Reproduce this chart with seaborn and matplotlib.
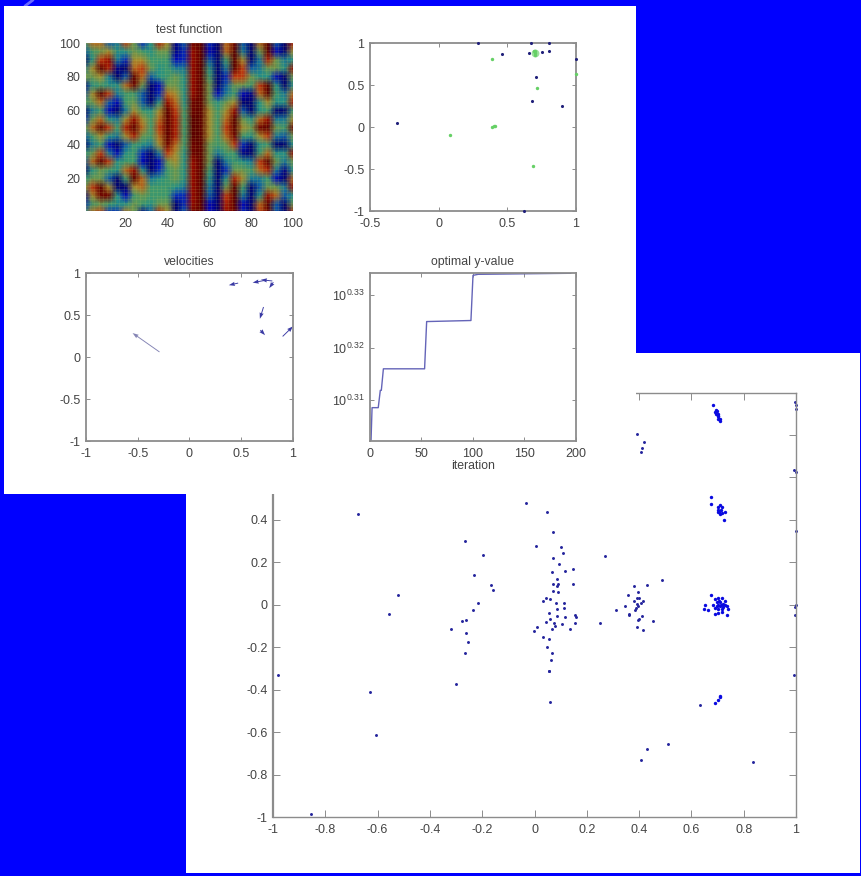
#!/usr/bin/env python3
"""Slide with a MATLAB figure of a swarm run pasted over a larger scatter of particle positions"""

import numpy as np
import pandas as pd
import matplotlib
matplotlib.use('Agg')
import matplotlib.pyplot as plt
from matplotlib.colors import LinearSegmentedColormap
from matplotlib.lines import Line2D
from matplotlib.patches import Rectangle
import seaborn as sns

# test function, read by eye on a coarse grid (rows y=100..0 step 5, columns x=0..100 step 4)
HEAT_X = list(range(0, 101, 4))
HEAT_Y = list(range(100, -1, -5))
HEAT_VALUES = [
    [-1, 3, 3, -3, -2, 4, 1, -4, -1, 5, 2, -6, -3, 7, 8, -4, -7, 3, 7, -3, -7, 3, 8, -3, -8, 5],
    [-3, 0, 1, 2, -1, -1, 1, 0, -1, 1, 1, -6, -4, 6, 9, -5, -8, 3, 8, -2, -8, 1, 9, -5, -7, 2],
    [-8, -1, 4, 6, -2, -4, 2, 2, 0, 0, 0, -5, -4, 6, 9, -3, -9, 0, 9, 2, -8, -2, 5, 1, -2, -1],
    [-2, 2, 9, 5, -6, -8, 3, 4, 1, -1, 0, -2, -2, 6, 9, -1, -9, -2, 8, 4, -3, -2, 1, 1, -1, 6],
    [1, 1, 2, -2, -8, -3, 9, 3, -3, -1, 0, 1, -1, 6, 9, 0, -9, -4, 4, 4, 1, -1, -1, -5, -7, 1],
    [-6, -1, 0, -1, -1, 3, 7, 1, -7, -5, 1, 1, -1, 6, 9, 1, -8, -3, 1, 1, 0, 4, 8, -1, -8, -1],
    [-3, 2, 8, 4, -2, 0, 0, -3, -9, -4, 3, 2, -1, 6, 9, 1, -5, -2, 0, -5, -6, 3, 8, 0, -2, 3],
    [0, 1, 3, -3, -5, 0, 1, -3, -7, -1, 6, 3, -1, 7, 9, 1, -1, 1, 2, -8, -9, -1, 2, -1, -1, 5],
    [-7, -2, 0, -5, -9, -2, 2, 0, -1, 2, 8, 4, 0, 7, 9, 2, 0, 2, 6, -3, -7, -1, 0, -7, -8, 0],
    [-4, 1, 3, -1, -2, 2, 6, 2, 0, 3, 9, 5, 0, 8, 10, 2, 0, 3, 8, 1, -1, 3, 6, -2, -2, 2],
    [0, 3, 9, 4, 0, 5, 9, 3, 0, 4, 9, 5, 0, 8, 10, 2, 0, 4, 9, 2, 1, 7, 9, 1, 0, 7],
    [-3, 0, 2, -1, -2, 2, 5, 1, 0, 3, 9, 5, 0, 8, 10, 2, 0, 3, 7, 0, -1, 2, 4, -2, -3, 1],
    [-7, -2, 0, -5, -9, -3, 0, -1, -2, 2, 7, 3, 0, 7, 9, 1, 0, 1, 4, -4, -8, -1, 0, -7, -8, -1],
    [-1, 1, 4, -2, -5, -1, 0, -4, -7, -2, 4, 2, -1, 7, 9, 1, -2, 0, 0, -6, -9, 0, 3, -1, -1, 6],
    [-3, 3, 9, 4, -1, 0, 0, -5, -9, -5, 1, 2, -1, 6, 9, 1, -7, -2, 0, -1, -2, 4, 9, 1, -2, 1],
    [-7, -1, 1, 0, -1, 3, 6, -1, -7, -4, 0, 1, -1, 6, 9, 0, -9, -4, 1, 1, 0, 3, 5, -2, -6, -1],
    [-1, 1, 1, -3, -7, 0, 8, 3, -2, -1, 0, 1, -1, 6, 9, -1, -9, -1, 5, 2, -2, -2, 0, -5, -8, 3],
    [1, 4, 8, 2, -8, -8, 2, 3, 0, 0, 0, -1, -2, 6, 9, -2, -9, 1, 8, 0, -7, -3, 1, 1, -2, 6],
    [-6, 2, 7, 7, -1, -5, 0, 1, 0, 0, 0, -4, -4, 6, 9, -3, -9, 4, 9, -2, -9, -1, 6, 3, -3, -1],
    [-4, 0, 1, 0, -1, -1, 1, 0, -1, 1, 1, -7, -4, 6, 9, -5, -8, 5, 8, -5, -8, 3, 9, -3, -8, 1],
    [-1, 3, 4, -4, -4, 3, 1, -6, -3, 5, 2, -7, -3, 7, 8, -5, -7, 6, 7, -4, -7, 4, 7, -3, -8, 5],
]

# best positions and current positions, top right panel
BEST_X = [-0.30, 0.29, 0.67, 0.80, 0.46, 0.66, 0.75, 0.805, 1.0, 0.71, 0.68, 0.90, 0.62]
BEST_Y = [0.045, 1.0, 1.0, 1.0, 0.87, 0.88, 0.89, 0.90, 0.81, 0.59, 0.31, 0.25, -1.0]
CURRENT_X = [0.385, 0.695, 0.70, 0.705, 0.70, 1.0, 0.715, 0.40, 0.41, 0.385, 0.08, 0.69]
CURRENT_Y = [0.81, 0.91, 0.88, 0.90, 0.86, 0.635, 0.46, 0.01, 0.015, 0.0, -0.09, -0.46]
HALO_X = [0.70]
HALO_Y = [0.885]

# velocity arrows: start point and displacement
ARROW_X = [-0.29, 0.47, 0.72, 0.80, 0.81, 0.715, 0.685, 0.90]
ARROW_Y = [0.06, 0.88, 0.91, 0.905, 0.89, 0.595, 0.32, 0.245]
ARROW_U = [-0.26, -0.09, -0.11, -0.11, -0.04, -0.035, 0.045, 0.10]
ARROW_V = [0.225, -0.025, -0.025, 0.015, -0.07, -0.14, -0.06, 0.12]

# optimal value, the exponent of the log axis against iteration
ITERATION = [0, 1, 2, 8, 10, 11, 13, 53, 55, 98, 100, 105, 195]
OPTIMAL_EXP = [0.3023, 0.3023, 0.3086, 0.3086, 0.3119, 0.3119, 0.3160, 0.3160, 0.3250, 0.3252, 0.3338, 0.3340, 0.3342]

# big scatter, grouped the way the points sit in the picture
LEFT_X = [-0.855, -0.979, -0.676, -0.628, -0.608, -0.558, -0.523, -0.320, -0.300, -0.276, -0.262,
          -0.263, -0.254, -0.265, -0.234, -0.217, -0.231, -0.267, -0.196, -0.165, -0.159]
LEFT_Y = [-0.987, -0.332, 0.426, -0.413, -0.612, -0.045, 0.044, -0.114, -0.372, -0.078, -0.074,
          -0.133, -0.174, -0.225, -0.027, 0.006, 0.142, 0.299, 0.233, 0.093, 0.069]
CENTRE_X = [-0.031, 0.047, 0.072, 0.006, 0.103, 0.110, 0.072, 0.095, 0.148, 0.115, 0.067, 0.086,
            0.146, 0.072, 0.090, 0.085, 0.072, 0.090, 0.044, 0.031, 0.060, 0.081, 0.112, 0.114,
            0.087, 0.054, 0.059, 0.044, 0.086, 0.115, 0.156, 0.160, 0.075, 0.077, 0.068, 0.105,
            0.156, 0.135, 0.011, -0.002, 0.034, 0.054, 0.048, 0.067, 0.062, 0.057, 0.056, 0.059]
CENTRE_Y = [0.48, 0.435, 0.344, 0.278, 0.274, 0.245, 0.220, 0.191, 0.168, 0.157, 0.152, 0.123,
            0.096, 0.099, 0.096, 0.088, 0.063, 0.059, 0.034, 0.017, 0.026, 0.008, 0.008, -0.014,
            -0.022, -0.038, -0.066, -0.080, -0.055, -0.058, -0.046, -0.057, -0.085, -0.099, -0.112,
            -0.093, -0.088, -0.112, -0.104, -0.126, -0.153, -0.162, -0.200, -0.225, -0.258, -0.311,
            -0.31, -0.458]
MID_X = [0.489, 0.432, 0.382, 0.397, 0.356, 0.391, 0.400, 0.382, 0.414, 0.406, 0.391, 0.397, 0.346,
         0.388, 0.310, 0.384, 0.363, 0.360, 0.410, 0.401, 0.396, 0.452, 0.392, 0.414, 0.249, 0.271,
         0.391, 0.419, 0.410, 0.407, 0.407, 0.429, 0.51, 0.631, 0.836]
MID_Y = [0.115, 0.093, 0.088, 0.058, 0.044, 0.033, 0.030, 0.017, 0.017, 0.008, 0.002, -0.006, -0.008,
         -0.014, -0.024, -0.027, -0.043, -0.050, -0.054, -0.066, -0.074, -0.077, -0.107, -0.117,
         -0.088, 0.228, 0.805, 0.767, 0.737, 0.718, -0.73, -0.678, -0.656, -0.473, -0.743]
CLUSTER_X = [0.684, 0.693, 0.697, 0.70, 0.703, 0.70, 0.706, 0.711, 0.711, 0.70, 0.695, 0.692,
             0.675, 0.674, 0.709, 0.70, 0.716, 0.703, 0.713, 0.707, 0.700, 0.709, 0.716, 0.728, 0.726,
             0.675, 0.652, 0.648, 0.665, 0.690, 0.703, 0.718, 0.735, 0.741, 0.735, 0.690, 0.703,
             0.716, 0.728, 0.697, 0.709, 0.722, 0.684, 0.697, 0.709, 0.722, 0.690, 0.703, 0.716,
             0.700, 0.713, 0.707, 0.728, 0.691, 0.70, 0.711, 0.711]
CLUSTER_Y = [0.940, 0.918, 0.912, 0.90, 0.89, 0.89, 0.875, 0.875, 0.865, 0.875, 0.90, 0.91,
             0.508, 0.475, 0.468, 0.46, 0.46, 0.448, 0.448, 0.437, 0.437, 0.426, 0.432, 0.435, 0.40,
             0.047, 0.0, -0.022, -0.027, -0.042, -0.038, -0.033, -0.05, -0.019, -0.007, 0.028, 0.031,
             0.031, 0.016, 0.012, 0.012, 0.005, -0.003, -0.006, -0.006, -0.011, -0.016, -0.019, -0.019,
             -0.001, -0.001, 0.020, -0.001, -0.462, -0.45, -0.43, -0.435]
EDGE_X = [0.996, 1.0, 0.999, 0.994, 0.999, 0.999, 1.0, 0.996, 0.996, 0.993]
EDGE_Y = [0.957, 0.942, 0.923, 0.635, 0.625, 0.346, 0.0, -0.011, -0.046, -0.332]

FIG_W, FIG_H = 862, 876
BLUE = '#0000ff'
SPINE = '#8c8c8c'
TEXT = '#444444'
MUTED_JET = LinearSegmentedColormap.from_list('muted_jet', ['#000070', '#0008c8', '#0c58a8', '#1f8f8c', '#4a9a60',
                                                            '#b08a28', '#c03a10', '#a00c00', '#5c0000'])


def add_axes_px(fig, left, top, right, bottom, zorder):
    """Axes placed by its pixel box, y counted from the top of the picture"""
    return fig.add_axes([left / FIG_W, 1 - bottom / FIG_H, (right - left) / FIG_W, (bottom - top) / FIG_H],
                        zorder=zorder)


def add_panel_px(fig, left, top, right, bottom, zorder):
    fig.add_artist(Rectangle((left / FIG_W, 1 - bottom / FIG_H), (right - left) / FIG_W, (bottom - top) / FIG_H,
                             transform=fig.transFigure, facecolor='white', edgecolor='none', zorder=zorder))


def tick_text(values):
    # adding 0.0 gets rid of a negative zero
    return [f'{v + 0.0:g}' for v in values]


def style_axes(ax, xticks=None, yticks=None, lw=1.3, length=3):
    """MATLAB look: gray box, inward ticks on all four sides"""
    ax.set_facecolor('white')
    for spine in ax.spines.values():
        spine.set_visible(True)
        spine.set_color(SPINE)
        spine.set_linewidth(lw)
    ax.tick_params(which='major', direction='in', top=True, right=True, bottom=True, left=True, length=length,
                   width=0.7, color=SPINE, labelsize=9, labelcolor=TEXT)
    ax.tick_params(axis='x', pad=5)
    ax.tick_params(axis='y', pad=4)
    if xticks is not None:
        ax.set_xticks(xticks)
        ax.set_xticklabels(tick_text(xticks))
    if yticks is not None:
        ax.set_yticks(yticks)
        ax.set_yticklabels(tick_text(yticks))
    ax.set_xlabel('')
    ax.set_ylabel('')


def draw_big_scatter(ax):
    xs = LEFT_X + CENTRE_X + MID_X + EDGE_X
    ys = LEFT_Y + CENTRE_Y + MID_Y + EDGE_Y
    sns.scatterplot(x=xs, y=ys, ax=ax, color='#24249c', s=4.5, linewidth=0, clip_on=False)
    sns.scatterplot(x=CLUSTER_X, y=CLUSTER_Y, ax=ax, color='#0a0ae0', s=6, linewidth=0, clip_on=False)
    ax.set_xlim(-1, 1)
    ax.set_ylim(-1, 1)
    ticks = np.round(np.arange(-1, 1.01, 0.2), 1)
    style_axes(ax, ticks, ticks, lw=1.0, length=5)
    ax.spines['left'].set_linewidth(1.6)


def draw_heat(ax):
    table = pd.DataFrame(HEAT_VALUES, index=HEAT_Y, columns=HEAT_X)
    sns.heatmap(table, ax=ax, cmap=MUTED_JET, vmin=-6.5, vmax=7.5, cbar=False, shading='gouraud',
                xticklabels=False, yticklabels=False)
    # faint mesh of the surface plot, one line per unit of the 100 x 100 grid
    ax.vlines(np.arange(0.25, 25.01, 0.5), 0, 20, color='#d8d060', linewidth=0.5, alpha=0.18)
    ax.hlines(np.arange(0, 20.01, 0.4), 0, 25, color='#d8d060', linewidth=0.5, alpha=0.18)
    ax.set_xlim(0.25, 25)
    ax.set_ylim(19.8, 0)
    ticks = [20, 40, 60, 80, 100]
    style_axes(ax)
    ax.tick_params(length=0)
    ax.set_xticks([v / 4 for v in ticks])
    ax.set_xticklabels(ticks)
    ax.set_yticks([(100 - v) / 5 for v in ticks])
    ax.set_yticklabels(ticks, rotation=0)
    for spine in ax.spines.values():
        spine.set_visible(False)
    ax.set_title('test function', fontsize=8.8, color=TEXT, pad=7)


def draw_positions(ax):
    sns.scatterplot(x=BEST_X, y=BEST_Y, ax=ax, color='#20207a', s=5, linewidth=0, clip_on=False, zorder=3)
    sns.scatterplot(x=HALO_X, y=HALO_Y, ax=ax, color='#9ce09c', s=32, linewidth=0, clip_on=False, zorder=4)
    sns.scatterplot(x=CURRENT_X, y=CURRENT_Y, ax=ax, color='#66d066', s=6, linewidth=0, clip_on=False, zorder=5)
    ax.set_xlim(-0.5, 1)
    ax.set_ylim(-1, 1)
    style_axes(ax, [-0.5, 0, 0.5, 1], [-1, -0.5, 0, 0.5, 1])


def draw_velocities(ax):
    colors = ['#8484b4'] + ['#3a3aa4'] * (len(ARROW_X) - 1)
    ax.quiver(ARROW_X, ARROW_Y, ARROW_U, ARROW_V, angles='xy', scale_units='xy', scale=1, color=colors,
              width=0.0045, headwidth=4.5, headlength=6.5, headaxislength=6)
    ax.set_xlim(-1, 1)
    ax.set_ylim(-1, 1)
    style_axes(ax, [-1, -0.5, 0, 0.5, 1], [-1, -0.5, 0, 0.5, 1])
    ax.set_title('velocities', fontsize=8.8, color=TEXT, pad=6)


def draw_optimal(ax):
    values = [10 ** e for e in OPTIMAL_EXP]
    sns.lineplot(x=ITERATION, y=values, ax=ax, color='#6464b8', linewidth=1.0, estimator=None)
    ax.set_yscale('log')
    ax.set_xlim(0, 200)
    ax.set_ylim(10 ** 0.30225, 10 ** 0.33425)
    style_axes(ax, [0, 50, 100, 150, 200])
    exps = [0.31, 0.32, 0.33]
    ax.set_yticks([10 ** e for e in exps])
    ax.set_yticklabels([f'$\\mathregular{{10^{{{e:g}}}}}$' for e in exps])
    ax.minorticks_off()
    ax.set_title('optimal y-value', fontsize=8.8, color=TEXT, pad=6)
    ax.set_xlabel('iteration', fontsize=8.8, color=TEXT, labelpad=0)


def main():
    sns.set_theme(style='white')
    plt.rcParams['font.family'] = ['Liberation Sans', 'DejaVu Sans']
    plt.rcParams['mathtext.fontset'] = 'custom'
    plt.rcParams['mathtext.rm'] = 'Liberation Sans'

    fig = plt.figure(figsize=(FIG_W / 100, FIG_H / 100), dpi=100, facecolor=BLUE)

    # faint arc of the slide template, top left corner
    fig.add_artist(Line2D([33 / FIG_W, 25 / FIG_W], [1.0, 1 - 6 / FIG_H], transform=fig.transFigure,
                          color='#6a6aff', linewidth=2, zorder=0))

    add_panel_px(fig, 186, 353, 860, 873, zorder=1)
    draw_big_scatter(add_axes_px(fig, 273, 392.5, 796, 817, zorder=2))
    add_panel_px(fig, 4, 6, 636, 494, zorder=3)

    draw_heat(add_axes_px(fig, 86, 43, 293, 211, zorder=4))
    draw_positions(add_axes_px(fig, 370, 43, 576, 211, zorder=4))
    draw_velocities(add_axes_px(fig, 86, 273, 293, 441, zorder=4))
    draw_optimal(add_axes_px(fig, 370, 273, 576, 441, zorder=4))

    fig.savefig('out.png', dpi=100, facecolor=BLUE)


if __name__ == '__main__':
    main()
